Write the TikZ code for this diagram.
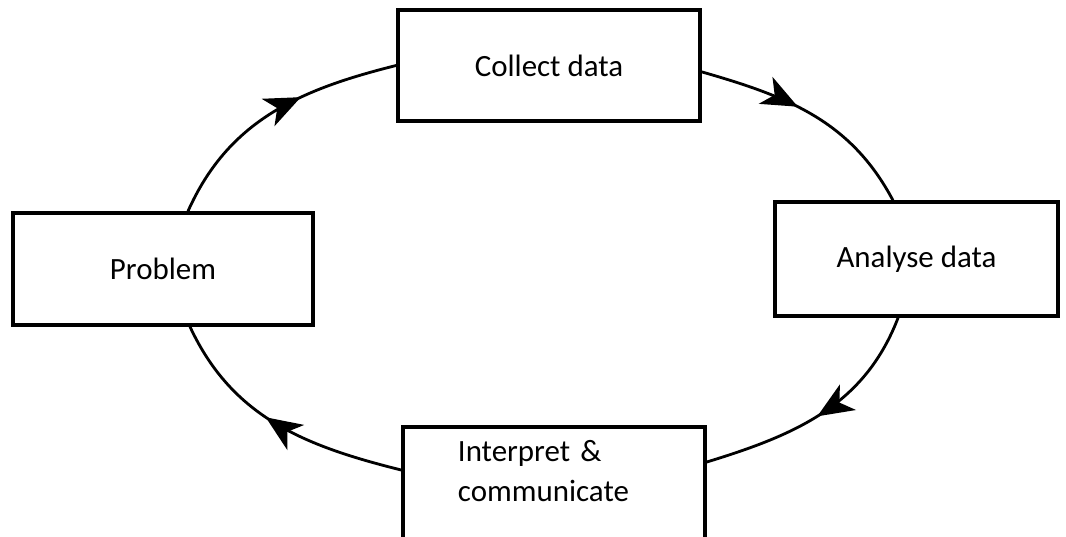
\documentclass[tikz,border=0pt]{standalone}
\usepackage{fontspec}
\setmainfont{Carlito}
\usetikzlibrary{arrows.meta, decorations.markings}

\begin{document}
\begin{tikzpicture}[line cap=round,line join=round,x=0.025cm,y=0.025cm,
    box/.style={draw=black, fill=white, line width=2.5pt, line join=miter, rectangle, inner sep=0pt, font=\fontsize{22}{28.5}\selectfont},
    flow/.style={line width=2pt, postaction={decorate, decoration={markings, mark=at position #1 with {\arrow{Stealth[length=9mm, width=7.5mm, inset=2.5mm]}}}}},
    flow/.default=0.5]
    \useasboundingbox (0,0) rectangle (1066,537);
    \clip (0,0) rectangle (1066,537);

    % Stages
    \draw (549,471.5) node[box, minimum width=7.55cm, minimum height=2.775cm] (collect) {Collect data};
    \draw (163,268) node[box, minimum width=7.5cm, minimum height=2.8cm] (prob) {Problem};
    \draw (916.5,278) node[box, minimum width=7.075cm, minimum height=2.85cm] (analyse) {Analyse data};
    % bottom edge runs off the page
    \draw (554,112) node[box, anchor=north, align=left, text width=4.8cm, inner xsep=1.375cm, inner ysep=0.35cm, text depth=3cm] (interp) {Interpret \&\\communicate};

    % Cycle
    \draw[flow=0.62] ([xshift=0.625cm]prob.north) to[out=66,in=194] (collect.west);
    \draw[flow=0.43] ([yshift=-0.16cm]collect.east) to[out=-16,in=118] ([xshift=-0.59cm]analyse.north);
    \draw[flow=0.52] ([xshift=-0.46cm]analyse.south) to[out=-111,in=17] ([yshift=-0.925cm]interp.north east);
    \draw[flow=0.55] ([yshift=-1.125cm]interp.north west) to[out=166,in=-65] ([xshift=0.675cm]prob.south);

\end{tikzpicture}
\end{document}
